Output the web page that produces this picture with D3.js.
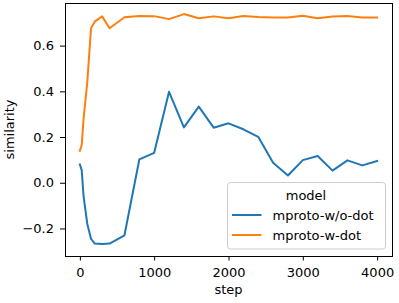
<!DOCTYPE html>
<html><head><meta charset="utf-8">
<script src="https://cdn.jsdelivr.net/npm/d3@7"></script>
<style>
html,body{margin:0;padding:0;background:#fff;}
svg{display:block;font-family:"DejaVu Sans",sans-serif;}
</style></head>
<body><svg id="c" width="399" height="303"></svg>
<script>
const steps = [0,25,50,100,150,200,300,400,600,800,1000,1200,1400,1600,1800,2000,2200,2400,2600,2800,3000,3200,3400,3600,3800,4000];
const woDot = [0.08,0.055,-0.06,-0.18,-0.245,-0.266,-0.268,-0.266,-0.23,0.102,0.131,0.398,0.242,0.333,0.241,0.26,0.234,0.201,0.0875,0.032,0.099,0.117,0.053,0.098,0.076,0.095];
const wDot = [0.14,0.165,0.28,0.44,0.676,0.705,0.728,0.676,0.724,0.73,0.729,0.716,0.738,0.72,0.728,0.72,0.73,0.725,0.723,0.723,0.731,0.72,0.727,0.73,0.723,0.723];
const seriesNames = ["mproto-w/o-dot","mproto-w-dot"];
const colors = ["#1f77b4","#ff7f0e"];
const xTicks = [0,1000,2000,3000,4000];
const yTicks = [-0.2,0.0,0.2,0.4,0.6];

const svg = d3.select("#c");
const L=65, R=392, T=3, B=256;
const x = d3.scaleLinear().domain([-200,4200]).range([L,R]);
const y = d3.scaleLinear().domain([-0.3205,0.7865]).range([B,T]);

const series = [woDot,wDot];
const line = d3.line().x((d,i)=>x(steps[i])).y(d=>y(d));
series.forEach((s,k)=>{
  svg.append("path").datum(s).attr("d",line).attr("fill","none")
    .attr("stroke",colors[k]).attr("stroke-width",2).attr("stroke-linejoin","round").attr("stroke-linecap","square");
});

const fs = 13;
const gx = svg.append("g").attr("transform",`translate(0,${B})`)
  .call(d3.axisBottom(x).tickValues(xTicks).tickFormat(d3.format("d")).tickSize(4.5).tickPadding(7.5));
const gy = svg.append("g").attr("transform",`translate(${L},0)`)
  .call(d3.axisLeft(y).tickValues(yTicks).tickFormat(d=>d3.format(".1f")(d).replace("-","\u2212")).tickSize(5).tickPadding(6));
[gx,gy].forEach(g=>{
  g.select(".domain").remove();
  g.selectAll("line").attr("stroke","#000").attr("stroke-width",1);
  g.selectAll("text").attr("font-size",fs).attr("font-family","DejaVu Sans").attr("fill","#000");
});

svg.append("rect").attr("x",L).attr("y",T).attr("width",R-L).attr("height",B-T)
  .attr("fill","none").attr("stroke","#000").attr("stroke-width",1).attr("shape-rendering","crispEdges");

svg.append("text").attr("x",(L+R)/2).attr("y",293.5).attr("text-anchor","middle").attr("font-size",fs).text("step");
svg.append("text").attr("transform",`translate(13.5,${(T+B)/2}) rotate(-90)`).attr("text-anchor","middle").attr("font-size",fs).text("similarity");

// legend
const lg = svg.append("g");
lg.append("rect").attr("x",227.5).attr("y",182.5).attr("width",158).attr("height",66.5).attr("rx",3)
  .attr("fill","#fff").attr("fill-opacity",0.8).attr("stroke","#ccc").attr("stroke-width",1);
lg.append("text").attr("x",306).attr("y",200).attr("text-anchor","middle").attr("font-size",fs).text("model");
seriesNames.forEach((n,k)=>{
  const yy = 215 + k*20;
  lg.append("line").attr("x1",232).attr("x2",261.5).attr("y1",yy).attr("y2",yy).attr("stroke",colors[k]).attr("stroke-width",2);
  lg.append("text").attr("x",272.5).attr("y",yy+4.6).attr("font-size",fs).text(n);
});
</script></body></html>
